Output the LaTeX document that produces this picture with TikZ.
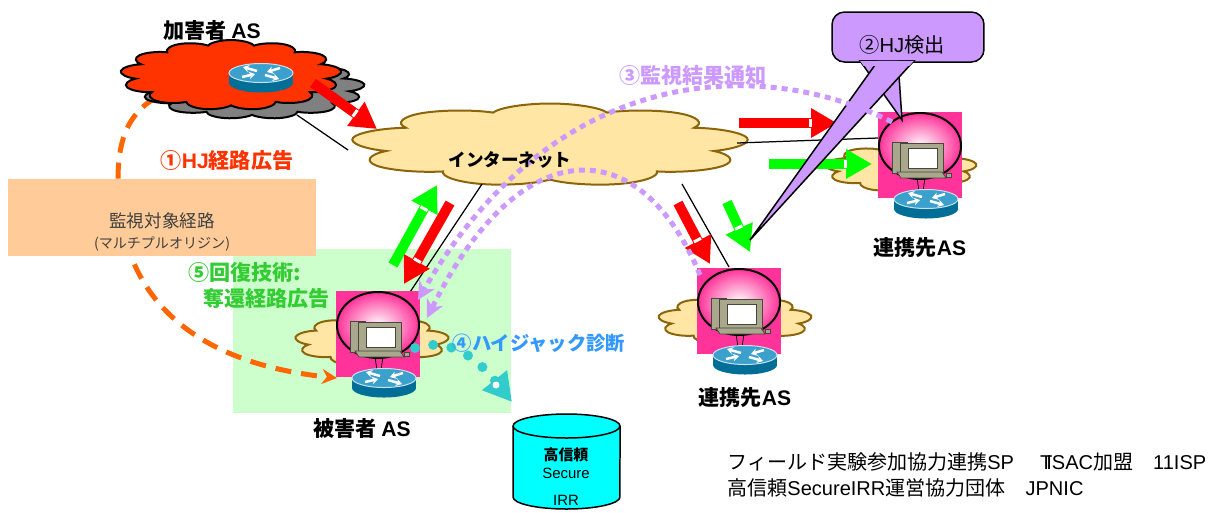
\documentclass[tikz,border=0pt]{standalone}
\usepackage{fontspec}
\setmainfont{Noto Sans CJK JP}
\newfontfamily\lat{Liberation Sans}
\usetikzlibrary{arrows.meta,calc,shapes.symbols}

\definecolor{atkred}{RGB}{255,51,0}
\definecolor{netyellow}{RGB}{255,230,165}
\definecolor{netedge}{RGB}{140,100,10}
\definecolor{lavender}{RGB}{204,153,255}
\definecolor{hjorange}{RGB}{255,102,0}
\definecolor{peach}{RGB}{255,204,153}
\definecolor{mintbg}{RGB}{204,255,204}
\definecolor{stpink}{RGB}{255,51,153}
\definecolor{diagcyan}{RGB}{51,204,204}
\definecolor{diagblue}{RGB}{51,153,255}
\definecolor{recgreen}{RGB}{51,204,51}
\definecolor{irrcyan}{RGB}{0,255,255}
\definecolor{pcgray}{RGB}{170,168,140}
\definecolor{pcedge}{RGB}{70,70,60}
\definecolor{rtop}{RGB}{60,160,205}
\definecolor{rbody}{RGB}{0,110,150}

\tikzset{
  router/.pic={
    \fill[rbody] (-32,-4) rectangle (32,6);
    \fill[rbody] (0,6) ellipse [x radius=0.64cm, y radius=0.19cm];
    \fill[rtop] (0,-4) ellipse [x radius=0.64cm, y radius=0.19cm];
    \draw[white!70!rtop, line width=0.02cm] (0,-4) ellipse [x radius=0.64cm, y radius=0.19cm];
    \begin{scope}[white, line width=0.05cm, -{Stealth[length=0.12cm,width=0.15cm]}]
      \draw (-4,-6) -- (-18,-10);
      \draw (4,-2) -- (18,2);
      \draw (-19,0) -- (-6,-3);
      \draw (19,-9) -- (6,-5);
    \end{scope}
  },
  station/.pic={
    \fill[stpink] (-42,-43) rectangle (42,43);
    \shade[inner color=white, outer color=stpink] (0,-9) ellipse [x radius=0.82cm, y radius=0.66cm];
    \draw[line width=0.04cm] (0,-9) ellipse [x radius=0.82cm, y radius=0.66cm];
    % terminal
    \draw (-3,23) -- (-1,36) (5,23) -- (3,36);
    \draw[pcedge, fill=pcgray] (-28,-13) rectangle (-13,18);
    \draw[pcedge, fill=pcgray] (-20,-12) rectangle (23,18);
    \draw[pcedge, fill=white] (-12,-7) rectangle (17,13);
    \draw[pcedge, fill=pcgray] (-23,17) -- (22,17) -- (26,23) -- (-19,23) -- cycle;
    \draw[pcedge, fill=pcgray] (26,18) rectangle (31,22);
    \pic at (6,48) {router};
  },
  % round cloud stretched sideways
  netcloud/.style={cloud, aspect=1, draw=netedge, fill=netyellow, line width=0.04cm, inner sep=0, transform shape},
  blockarr/.style={line width=0.2cm, -{Triangle[length=0.52cm,width=0.56cm]}},
  notify/.style={lavender, line width=0.1cm, dash pattern=on 0.12cm off 0.1cm, -{Stealth[length=0.36cm,width=0.36cm]}},
  hjroute/.style={hjorange, line width=0.1cm, dash pattern=on 0.32cm off 0.2cm, {Stealth[length=0.3cm,width=0.3cm]}-{Stealth[length=0.3cm,width=0.3cm]}},
  link/.style={line width=0.025cm},
  lbl/.style={font=\bfseries\fontsize{12}{14}\selectfont, inner sep=0},
}

% thick arrow with a white notch at the head
\newcommand\blockarrow[3]{%
  \draw[blockarr, #1] (#2) -- (#3);
  \coordinate (bamark) at ($(#3)!0.54cm!(#2)$);
  \draw[white, line width=0.06cm] ($(bamark)!0.08cm!90:(#3)$) -- ($(bamark)!0.08cm!-90:(#3)$);
}

\begin{document}
\begin{tikzpicture}[x=0.02cm, y=-0.02cm]
\useasboundingbox (0,0) rectangle (1213,512);

\coordinate (vic) at (378,334);
\coordinate (pt) at (739,311);
\coordinate (rp) at (920,155);
\coordinate (atkr) at (261,77);
\coordinate (vicrt) at ($(vic)+(6,48)$);
\coordinate (irr) at (566,462);

% recovery area
\fill[mintbg] (233,249) rectangle (511,413);

% hijacked route
\draw[hjroute] ([shift={(-48,0)}]atkr) .. controls (140,95) and (118,120) .. (118,180)
  .. controls (118,310) and (210,365) .. ([shift={(-47,-4)}]vicrt);

\node[fill=peach, minimum width=6.16cm, minimum height=1.54cm, inner sep=0] (watch) at (162,217.5) {};
\node[align=center, inner sep=0, text=black!75, font=\fontsize{10}{13}\selectfont] (watchtxt) at (162,232)
  {監視対象経路\\[-1pt]{\fontsize{8}{10}\selectfont (マルチプルオリジン)}};

% clouds
\node[netcloud, cloud puffs=13, fill=black!50, draw=black, minimum size=1.24cm, xscale=3.65] (atkshadow) at (252,88) {};
\node[netcloud, cloud puffs=13, fill=atkred, draw=black, minimum size=1.4cm, xscale=3.17] (atk) at (231,75) {};
\node[netcloud, cloud puffs=9, minimum size=1.66cm, xscale=4.82] (inet) at (550,145) {};
\node[netcloud, cloud puffs=9, minimum size=1.0cm, xscale=3.1] (viccloud) at (372,341) {};
\node[netcloud, cloud puffs=9, minimum size=0.98cm, xscale=3.16] (ptcloud) at (735,320) {};
\node[netcloud, cloud puffs=9, minimum size=0.94cm, xscale=3.25] (rpcloud) at (901,168) {};

% links
\draw[link] ([shift={(66,40)}]atk.center) -- ([shift={(-202,5)}]inet.center);
\draw[link] ([shift={(-68,39)}]inet.center) -- ([shift={(32,-42)}]vic);
\draw[link] ([shift={(132,39)}]inet.center) -- ([shift={(-10,-44)}]pt);
\draw[link] ([shift={(187,-2)}]inet.center) -- ([shift={(-42,-17)}]rp);

% ASes
\pic at (vic) {station};
\pic at (pt) {station};
\pic at (rp) {station};
\pic at (atkr) {router};

% route flows
\blockarrow{red}{313,83}{377,129}
\blockarrow{red}{739,123}{837,123}
\blockarrow{red}{450,203}{404,284}
\blockarrow{red}{678,203}{710,264}
\blockarrow{green}{393,265}{437,185}
\blockarrow{green}{769,164}{872,164}
\blockarrow{green}{727,202}{750,252}

% detection callout
\node[draw, fill=lavender, line width=0.03cm, rounded corners=0.25cm, minimum width=3.04cm, minimum height=1cm, inner sep=0] (hjbox) at (908,37) {};
\filldraw[fill=lavender, line width=0.03cm] ([shift={(-48,-2)}]hjbox.south) -- ([shift={(-18,-35)}]rp) -- ([shift={(-10,-2)}]hjbox.south) -- cycle;
\filldraw[fill=lavender, line width=0.03cm] ([shift={(-30,-2)}]hjbox.south) -- ([shift={(11,-71)}]pt) -- ([shift={(6,-2)}]hjbox.south) -- cycle;
\begin{scope}
  \clip (840,60) rectangle (930,65);
  \fill[lavender] ([shift={(-48,-2)}]hjbox.south) -- ([shift={(-18,-35)}]rp) -- ([shift={(-10,-2)}]hjbox.south) -- cycle;
  \fill[lavender] ([shift={(-30,-2)}]hjbox.south) -- ([shift={(11,-71)}]pt) -- ([shift={(6,-2)}]hjbox.south) -- cycle;
\end{scope}
\node[inner sep=0, font=\fontsize{11.5}{14}\selectfont] (hjtxt) at ([shift={(-6,8)}]hjbox.center) {②{\lat HJ}検出};

% notifications
\draw[notify] ([shift={(-28,-33)}]rp) .. controls (770,60) and (560,55) .. ([shift={(40,-34)}]vic);
\draw[notify] ([shift={(-39,-36)}]pt) .. controls (640,130) and (520,130) .. ([shift={(49,-16)}]vic);

% diagnosis against the IRR
\draw[diagcyan, line width=0.2cm, line cap=round, dash pattern=on 0pt off 0.37cm, -{Triangle[length=0.56cm,width=0.6cm]}]
  ([shift={(37,14)}]vic) .. controls (445,338) and (472,352) .. ([shift={(-54,-60)}]irr);
\fill[white] (496,385) circle[radius=0.07cm];

% IRR database
\draw[fill=irrcyan, line width=0.03cm] (513,426) -- (513,497) arc[start angle=180, end angle=360, x radius=1.07cm, y radius=0.24cm]
  -- (620,426) arc[start angle=0, end angle=180, x radius=1.07cm, y radius=0.24cm] -- cycle;
\draw[line width=0.03cm] (513,426) arc[start angle=180, end angle=360, x radius=1.07cm, y radius=0.24cm];
\node[inner sep=0, align=center, font=\fontsize{8.5}{10.5}\selectfont] (irrtxt) at ([shift={(0,1)}]irr) {\textbf{高信頼}\\{\lat Secure}};
\node[inner sep=0, font=\lat\fontsize{8.5}{10.5}\selectfont] (irrname) at ([shift={(0,38)}]irr) {IRR};

% labels
\node[lbl] (atklbl) at (212,30) {加害者 {\lat AS}};
\node[lbl, text=atkred] (step1) at (227,160) {①{\lat HJ}経路広告};
\node[lbl, text=recgreen, anchor=west] (step5) at (188,272) {⑤回復技術:};
\node[lbl, text=recgreen, anchor=west] (step5b) at (203,298) {奪還経路広告};
\node[lbl, text=lavender] (step3) at (693,75) {③監視結果通知};
\node[lbl, text=diagblue, font=\bfseries\fontsize{11}{13}\selectfont] (step4) at (539,343) {④ハイジャック診断};
\node[lbl, font=\bfseries\fontsize{10}{12}\selectfont] (inetlbl) at (510,160) {インターネット};
\node[lbl] (rplbl) at (920,248) {連携先{\lat AS}};
\node[lbl] (ptlbl) at (745,398) {連携先{\lat AS}};
\node[lbl] (viclbl) at (362,428) {被害者 {\lat AS}};

\node[anchor=west, inner sep=0, font=\fontsize{11.4}{13}\selectfont] (fieldsp) at (727,462)
  {フィールド実験参加協力連携{\lat SP}\hspace{1.3em}{\lat T\kern-.3em ISAC}加盟\hspace{1em}{\lat 11ISP}};
\node[anchor=west, inner sep=0, font=\fontsize{11.4}{13}\selectfont] (irrorg) at (727,488)
  {高信頼{\lat SecureIRR}運営協力団体\hspace{1em}{\lat JPNIC}};
\end{tikzpicture}
\end{document}
